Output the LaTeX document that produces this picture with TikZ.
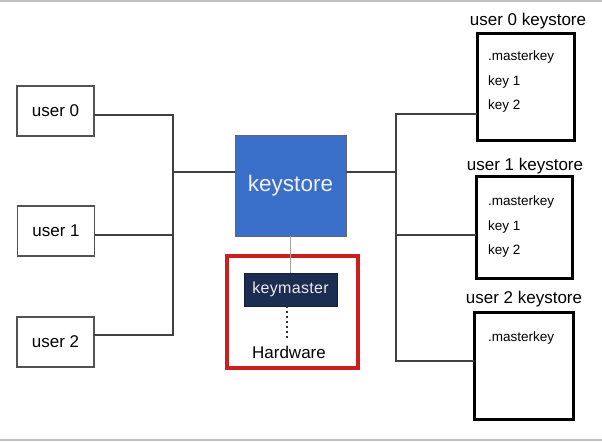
\documentclass[tikz,border=0pt]{standalone}
\usepackage{fontspec}
\setmainfont{Liberation Sans}
\definecolor{ksblue}{HTML}{3A6FC9}
\definecolor{kmnavy}{HTML}{1B2D50}
\definecolor{hwred}{HTML}{CC1E1E}
\definecolor{conn}{HTML}{404040}
\definecolor{frame}{HTML}{C0C0C0}
\begin{document}
\begin{tikzpicture}[x=1pt,y=-1pt,
  userbox/.style={draw=conn!90,line width=1.6pt,fill=white,inner sep=0pt,outer sep=0pt,
    minimum width=77pt,minimum height=50pt,font=\fontsize{17}{20}\selectfont},
  storebox/.style={draw=black,line width=3pt,inner sep=0pt,outer sep=0pt},
  storelabel/.style={inner sep=0pt,font=\fontsize{17}{20}\selectfont},
  keytext/.style={inner sep=0pt,anchor=west,font=\fontsize{13.5}{16}\selectfont},
  connector/.style={draw=conn,line width=1.5pt},
]
\useasboundingbox (0,0) rectangle (602,442);
\draw[frame,line width=1.5pt] (0,0.8) -- (602,0.8);
\draw[frame,line width=1.5pt] (0,440) -- (602,440);

% users
\node[userbox] (u0) at (55.5,111) {user 0};
\node[userbox] (u1) at (56,231) {user 1};
\node[userbox] (u2) at (55.5,342) {user 2};

% central keystore
\node[draw=conn!80,line width=1pt,fill=ksblue,text=white!94!black,inner sep=0pt,outer sep=0pt,
  minimum width=111pt,minimum height=101pt,font=\fontsize{22.5}{26}\selectfont]
  (ks) at (290.5,185.5) {keystore};

% hardware area
\node[fill=kmnavy,draw=kmnavy!70!black,line width=0.6pt,text=white!85!gray,inner sep=0pt,outer sep=0pt,
  minimum width=93pt,minimum height=33pt,font=\fontsize{16}{18}\selectfont]
  (km) at (290.5,289.5) {k\kern0.3pt e\kern0.3pt y\kern0.3pt m\kern0.3pt a\kern0.3pt s\kern0.3pt t\kern0.3pt e\kern0.3pt r};
\node[inner sep=0pt,font=\fontsize{17}{20}\selectfont] (hw) at (289,352) {Hardware};
\coordinate (hwtl) at (227,256);
\coordinate (hwbr) at (358,368);
\draw[hwred,line width=4pt] (hwtl) rectangle (hwbr);

% per-user keystores
\node[storebox,minimum width=97pt,minimum height=107pt] (s0) at (525.5,86.5) {};
\node[storebox,minimum width=96pt,minimum height=102pt] (s1) at (524,227) {};
\node[storebox,minimum width=99pt,minimum height=107pt] (s2) at (523.5,365.5) {};
\node[storelabel] (l0) at (528,21) {user 0 keystore};
\node[storelabel] (l1) at (525,166) {user 1 keystore};
\node[storelabel] (l2) at (524,299) {user 2 keystore};

\node[keytext] (s0a) at (488,57) {.masterkey};
\node[keytext] (s0b) at (488,82) {key 1};
\node[keytext] (s0c) at (488,106) {key 2};
\node[keytext] (s1a) at (488,202) {.masterkey};
\node[keytext] (s1b) at (488,227) {key 1};
\node[keytext] (s1c) at (488,251) {key 2};
\node[keytext] (s2a) at (488,338) {.masterkey};

% left tree
\coordinate (lt0) at (173,115);
\coordinate (lt1) at (173,235);
\coordinate (lt2) at (173,335);
\coordinate (ltm) at (173,172);
\draw[connector] (lt0 -| u0.east) -- (lt0) -- (lt2) -- (lt2 -| u2.east);
\draw[connector] (lt1 -| u1.east) -- (lt1);
\draw[connector] (ltm) -- (ltm -| ks.west);

% right tree
\coordinate (rt0) at (396,114);
\coordinate (rt1) at (396,235);
\coordinate (rt2) at (396,361);
\coordinate (rtm) at (396,172);
\draw[connector] (rtm -| ks.east) -- (rtm);
\draw[connector] (rt0 -| s0.west) -- (rt0) -- (rt2) -- (rt2 -| s2.west);
\draw[connector] (rt1) -- (rt1 -| s1.west);

% keystore to keymaster
\draw[draw=gray!70,line width=1.5pt] (ks.south) -- (km.north);
\coordinate (dotend) at (287,340);
\draw[black!80,line width=1.5pt,dash pattern=on 1.5pt off 3.5pt] (dotend |- km.south) -- (dotend);
\end{tikzpicture}
\end{document}
